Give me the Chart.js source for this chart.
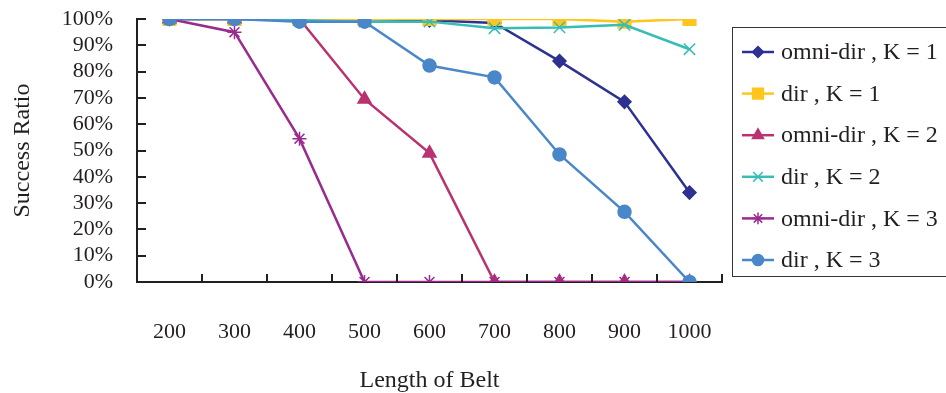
<!DOCTYPE html>
<html>
<head>
<meta charset="utf-8">
<script src="https://cdn.jsdelivr.net/npm/chart.js@4.4.1/dist/chart.umd.min.js"></script>
<style>
  html, body { margin: 0; padding: 0; background: #fff; }
  #wrap { width: 946px; height: 393px; position: relative; }
</style>
</head>
<body>
<div id="wrap"><canvas id="beltChart"></canvas></div>
<script>
const lengths = ['200', '300', '400', '500', '600', '700', '800', '900', '1000'];

const omniK1 = [100, 100, 100, 100, 99.5, 98.5, 84, 68.5, 34];
const dirK1 = [100, 100, 100, 100, 100, 100, 100, 99, 100];
const omniK2 = [100, 100, 100, 69.5, 49, 0, 0, 0, 0];
const dirK2 = [100, 100, 99.5, 99, 99, 96.5, 96.8, 97.8, 88.5];
const omniK3 = [100, 95, 54.5, 0, 0, 0, 0, 0, 0];
const dirK3 = [100, 100, 99, 99, 82.3, 77.8, 48.5, 26.7, 0];

const yTicks = [0, 10, 20, 30, 40, 50, 60, 70, 80, 90, 100];

const series = [
  { label: 'omni-dir , K = 1', data: omniK1, color: '#2E3192', style: 'rectRot', r: 6.5 },
  { label: 'dir , K = 1', data: dirK1, color: '#FFC61E', style: 'rect', r: 9 },
  { label: 'omni-dir , K = 2', data: omniK2, color: '#B8336F', style: 'triangle', r: 7.5 },
  { label: 'dir , K = 2', data: dirK2, color: '#35BDB6', style: 'crossRot', r: 8 },
  { label: 'omni-dir , K = 3', data: omniK3, color: '#992B8F', style: 'star', r: 7 },
  { label: 'dir , K = 3', data: dirK3, color: '#4A87C8', style: 'circle', r: 6.5 }
];

const FONT = '"Liberation Serif", "DejaVu Serif", serif';
const INK = '#231F20';

// tick marks point into the plot, as in the original
const innerTicks = {
  id: 'innerTicks',
  afterDraw(chart) {
    const { ctx, chartArea, scales } = chart;
    ctx.save();
    ctx.strokeStyle = INK;
    ctx.lineWidth = 2;
    ctx.beginPath();
    scales.y.ticks.forEach((t, i) => {
      const y = Math.round(scales.y.getPixelForTick(i));
      ctx.moveTo(chartArea.left, y);
      ctx.lineTo(chartArea.left + 9, y);
    });
    const x = scales.x;
    const half = (x.getPixelForValue(1) - x.getPixelForValue(0)) / 2;
    lengths.forEach((_, i) => {
      const px = Math.round(x.getPixelForValue(i) + half);
      ctx.moveTo(px, chartArea.bottom);
      ctx.lineTo(px, chartArea.bottom - 8);
    });
    ctx.stroke();
    ctx.restore();
  }
};

// boxed legend on the right with line + marker samples
const boxLegend = {
  id: 'boxLegend',
  afterDraw(chart) {
    const { ctx } = chart;
    ctx.save();
    ctx.strokeStyle = '#333';
    ctx.lineWidth = 1;
    ctx.strokeRect(732.5, 27.5, 216, 249);
    ctx.font = '24px ' + FONT;
    ctx.textBaseline = 'middle';
    series.forEach((s, i) => {
      const y = 52 + i * 41.6;
      ctx.strokeStyle = s.color;
      ctx.lineWidth = 2.5;
      ctx.beginPath();
      ctx.moveTo(742, y);
      ctx.lineTo(774, y);
      ctx.stroke();
      ctx.fillStyle = s.color;
      ctx.lineWidth = 1.5;
      Chart.helpers.drawPoint(ctx, { pointStyle: s.style, radius: s.r * 0.85, rotation: 0, borderWidth: 1.5 }, 758, y);
      ctx.fillStyle = INK;
      ctx.fillText(s.label, 781, y + 1);
    });
    ctx.restore();
  }
};

new Chart(document.getElementById('beltChart'), {
  type: 'line',
  data: {
    labels: lengths,
    datasets: series.map((s, i) => ({
      label: s.label,
      data: s.data,
      borderColor: s.color,
      backgroundColor: s.color,
      pointBorderColor: s.color,
      pointBackgroundColor: s.color,
      pointStyle: s.style,
      pointRadius: s.r,
      pointBorderWidth: 1.5,
      borderWidth: 2.5,
      tension: 0,
      order: series.length - i
    }))
  },
  options: {
    responsive: true,
    maintainAspectRatio: false,
    animation: false,
    layout: { padding: { left: 8, right: 224, top: 19, bottom: 0 } },
    plugins: { legend: { display: false }, tooltip: { enabled: false } },
    scales: {
      x: {
        offset: true,
        grid: { display: false },
        border: { display: true, color: INK, width: 2 },
        ticks: { color: INK, font: { family: FONT, size: 22 }, padding: 29, maxRotation: 0 },
        title: { display: true, text: 'Length of Belt', color: INK, font: { family: FONT, size: 24, lineHeight: 1 }, padding: { top: 14, bottom: 0 } },
        afterFit: s => { s.height = 111; }
      },
      y: {
        min: 0,
        max: 100,
        afterBuildTicks: s => { s.ticks = yTicks.map(v => ({ value: v })); },
        grid: { display: true, drawOnChartArea: false, drawTicks: true, tickLength: 24, color: 'rgba(0,0,0,0)' },
        border: { display: true, color: INK, width: 2 },
        ticks: { color: INK, autoSkip: false, font: { family: FONT, size: 22, lineHeight: 1 }, padding: 0, callback: v => v + '%' },
        title: { display: true, text: 'Success Ratio', color: INK, font: { family: FONT, size: 24 }, padding: { top: 0, bottom: 20 } },
        afterFit: s => { s.width = 129; }
      }
    }
  },
  plugins: [innerTicks, boxLegend]
});
</script>
</body>
</html>
